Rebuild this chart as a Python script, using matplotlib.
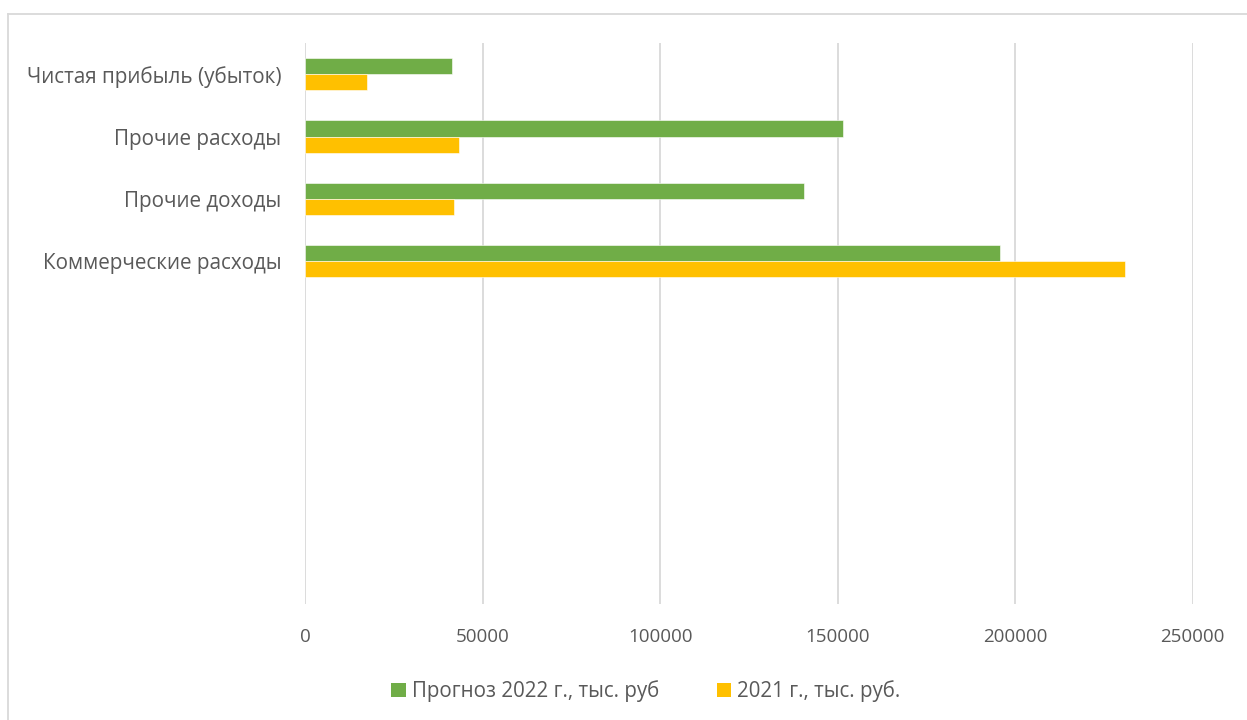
import numpy as np
import matplotlib
matplotlib.use("Agg")
import matplotlib.pyplot as plt
from matplotlib.lines import Line2D
from matplotlib.patches import Patch

# ---- data (Excel order: first category at the bottom) ----
categories = ["", "", "", "", "",
              "Коммерческие расходы", "Прочие доходы",
              "Прочие расходы", "Чистая прибыль (убыток)"]
forecast_2022 = [np.nan, np.nan, np.nan, np.nan, np.nan,
                 195600, 140600, 151500, 41300]
actual_2021 = [np.nan, np.nan, np.nan, np.nan, np.nan,
               230800, 42000, 43400, 17500]
series_labels = ["Прогноз 2022 г., тыс. руб", "2021 г., тыс. руб."]
x_ticks = [0, 50000, 100000, 150000, 200000, 250000]

GREEN = "#70AD47"
YELLOW = "#FFC000"
GRID = "#D9D9D9"
TEXT = "#595959"

W, H = 1247, 720
fig = plt.figure(figsize=(W / 100, H / 100), dpi=100)
fig.patch.set_facecolor("white")

ax = fig.add_axes([305 / W, 1 - 604 / H, (1192.7 - 305) / W, (604 - 43) / H])

y = np.arange(len(categories))
h = 0.26
ax.barh(y + h / 2, forecast_2022, height=h, color=GREEN,
        edgecolor="white", linewidth=0.4, label=series_labels[0], zorder=3)
ax.barh(y - h / 2, actual_2021, height=h, color=YELLOW,
        edgecolor="white", linewidth=0.4, label=series_labels[1], zorder=3)

ax.set_xlim(0, 250000)
ax.set_ylim(-0.5, len(categories) - 0.5)
ax.set_xticks(x_ticks)
ax.set_xticklabels([str(t) for t in x_ticks])
ax.set_yticks(y)
ax.set_yticklabels(categories)

ax.xaxis.grid(True, color=GRID, linewidth=1.3, zorder=0)
ax.set_axisbelow(True)
for s in ax.spines.values():
    s.set_visible(False)
ax.tick_params(axis="both", length=0)
ax.tick_params(axis="y", pad=17, labelsize=14.9, labelcolor=TEXT)
ax.tick_params(axis="x", pad=17, labelsize=13.5, labelcolor=TEXT)
for lab in ax.get_yticklabels():
    lab.set_family(["Open Sans", "DejaVu Sans"])
for lab in ax.get_xticklabels():
    lab.set_family(["Open Sans", "DejaVu Sans"])

handles = [Patch(facecolor=GREEN, edgecolor="none"),
           Patch(facecolor=YELLOW, edgecolor="none")]
leg = fig.legend(handles, series_labels, loc="center", ncol=2,
                 bbox_to_anchor=(646 / W, 1 - 691 / H), frameon=False,
                 handlelength=0.7, handleheight=0.7, handletextpad=0.3,
                 columnspacing=2.8,
                 prop={"family": ["Open Sans", "DejaVu Sans"], "size": 14.8})
for t in leg.get_texts():
    t.set_color(TEXT)

# chart-area border (top and left edges visible)
fig.add_artist(Line2D([7.5 / W, 1.0], [1 - 13.5 / H, 1 - 13.5 / H],
                      color=GRID, linewidth=1.3, transform=fig.transFigure))
fig.add_artist(Line2D([7.5 / W, 7.5 / W], [0, 1 - 13.5 / H],
                      color=GRID, linewidth=1.3, transform=fig.transFigure))

fig.savefig("out.png", dpi=100, facecolor="white")
